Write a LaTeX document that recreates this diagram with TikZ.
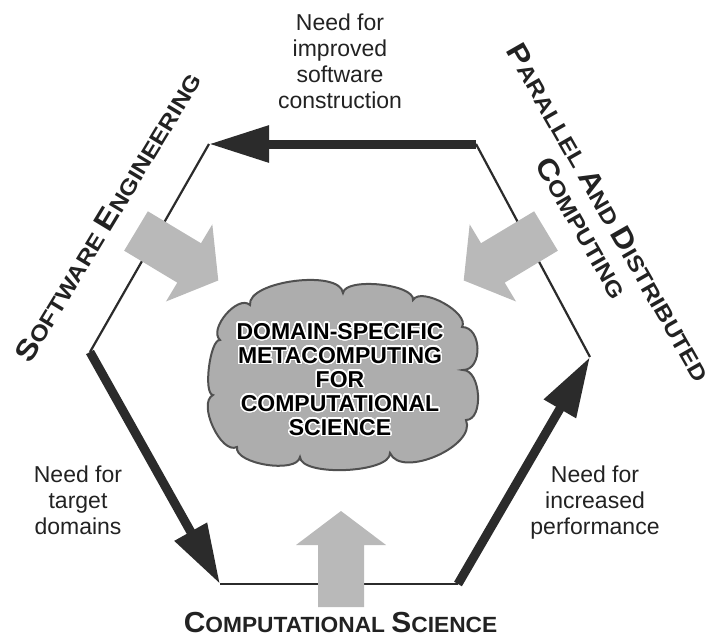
\documentclass[tikz,border=0pt]{standalone}
\usepackage{fontspec}
\setmainfont{Liberation Sans}
\usepackage{graphicx}
\usepackage{contour}
\contourlength{1.4pt}
\contournumber{32}
\usetikzlibrary{arrows.meta}

\definecolor{ink}{HTML}{222222}
\definecolor{edgegray}{HTML}{2B2B2B}
\definecolor{blockgray}{HTML}{B9B9B9}
\definecolor{cloudfill}{HTML}{ADADAD}
\definecolor{cloudline}{HTML}{505050}

% large initial capital followed by smaller capitals
\newcommand{\twocap}[2]{{\fontsize{29}{31}\selectfont #1}{\fontsize{22}{31}\selectfont #2}}

\begin{document}
\begin{tikzpicture}[x=1pt,y=-1pt,
  hexedge/.style={draw=edgegray, line width=2.2pt},
  flow/.style={draw=edgegray, line width=9pt, -{Triangle[length=60pt,width=35pt]}},
  needlabel/.style={align=center, inner sep=0pt, text=ink, anchor=north,
    font=\fontsize{23}{26}\selectfont},
  fieldlabel/.style={inner sep=0pt, text=ink, font=\fontsize{22}{31}\selectfont\bfseries},
  cloudtext/.style={align=center, inner sep=0pt, anchor=north, text=black,
    font=\fontsize{23}{24}\selectfont\bfseries},
  fatarrow/.pic={\fill[blockgray] (0,-23) -- (62,-23) -- (62,-45) -- (96,0)
     -- (62,45) -- (62,23) -- (0,23) -- cycle;}
]
\useasboundingbox (0,0) rectangle (714,640);

% hexagon corners
\coordinate (TL) at (209,144);
\coordinate (TR) at (476,144);
\coordinate (R)  at (590,357);
\coordinate (BR) at (458,584);
\coordinate (BL) at (220,584);
\coordinate (L)  at (90,352);

% plain sides
\draw[hexedge] (TL) -- (L);
\draw[hexedge] (BL) -- (BR);
\draw[hexedge] (TR) -- (R);

% driving needs
\draw[flow] (TR) -- (TL);
\draw[flow] (L) -- (BL);
\draw[flow] (BR) -- (R);

% contributions flowing inward
\pic (inSE)  [rotate=-31]  at (136,231) {fatarrow};
\pic (inPDC) [rotate=-149] at (546,231) {fatarrow};
\pic (inCS)  [rotate=90]   at (341,607) {fatarrow};

% central cloud
\path[fill=cloudfill, draw=cloudline, line width=2pt]
  (220,340) .. controls (208,329) and (238,294) .. (250,305)
            .. controls (247,281) and (340,269) .. (343,293)
            .. controls (345,277) and (415,284) .. (413,300)
            .. controls (421,286) and (470,313) .. (462,327)
            .. controls (482,327) and (483,370) .. (463,370)
            .. controls (481,370) and (484,420) .. (466,420)
            .. controls (477,446) and (401,479) .. (390,453)
            .. controls (391,473) and (301,477) .. (300,457)
            .. controls (297,474) and (234,464) .. (237,447)
            .. controls (221,455) and (197,403) .. (213,395)
            .. controls (203,394) and (210,339) .. (220,340) -- cycle;

\node[cloudtext] (core) at (340,323)
  {\contour{white}{DOMAIN-SPECIFIC}\\\contour{white}{METACOMPUTING}\\
   \contour{white}{FOR}\\\contour{white}{COMPUTATIONAL}\\\contour{white}{SCIENCE}};

% need labels
\node[needlabel] (needSW)   at (340,14)  {Need for\\improved\\software\\construction};
\node[needlabel] (needDom)  at (78,466)  {Need for\\target\\domains};
\node[needlabel] (needPerf) at (595,466) {Need for\\increased\\performance};

% field labels
\node[fieldlabel, rotate=58.8] (se) at (108,217)
  {\scalebox{1.13}[1]{\twocap{S}{OFTWARE} \twocap{E}{NGINEERING}}};
\node[fieldlabel, rotate=-60.3, align=center] (pdc) at (595.5,220)
  {\scalebox{1.13}[1]{\twocap{P}{ARALLEL} \twocap{A}{ND} \twocap{D}{ISTRIBUTED}}\\
   \scalebox{1.13}[1]{\twocap{C}{OMPUTING}}};
\node[fieldlabel, anchor=base] (cs) at (340.5,632)
  {\scalebox{1.033}[1]{\twocap{C}{OMPUTATIONAL} \twocap{S}{CIENCE}}};
\end{tikzpicture}
\end{document}
